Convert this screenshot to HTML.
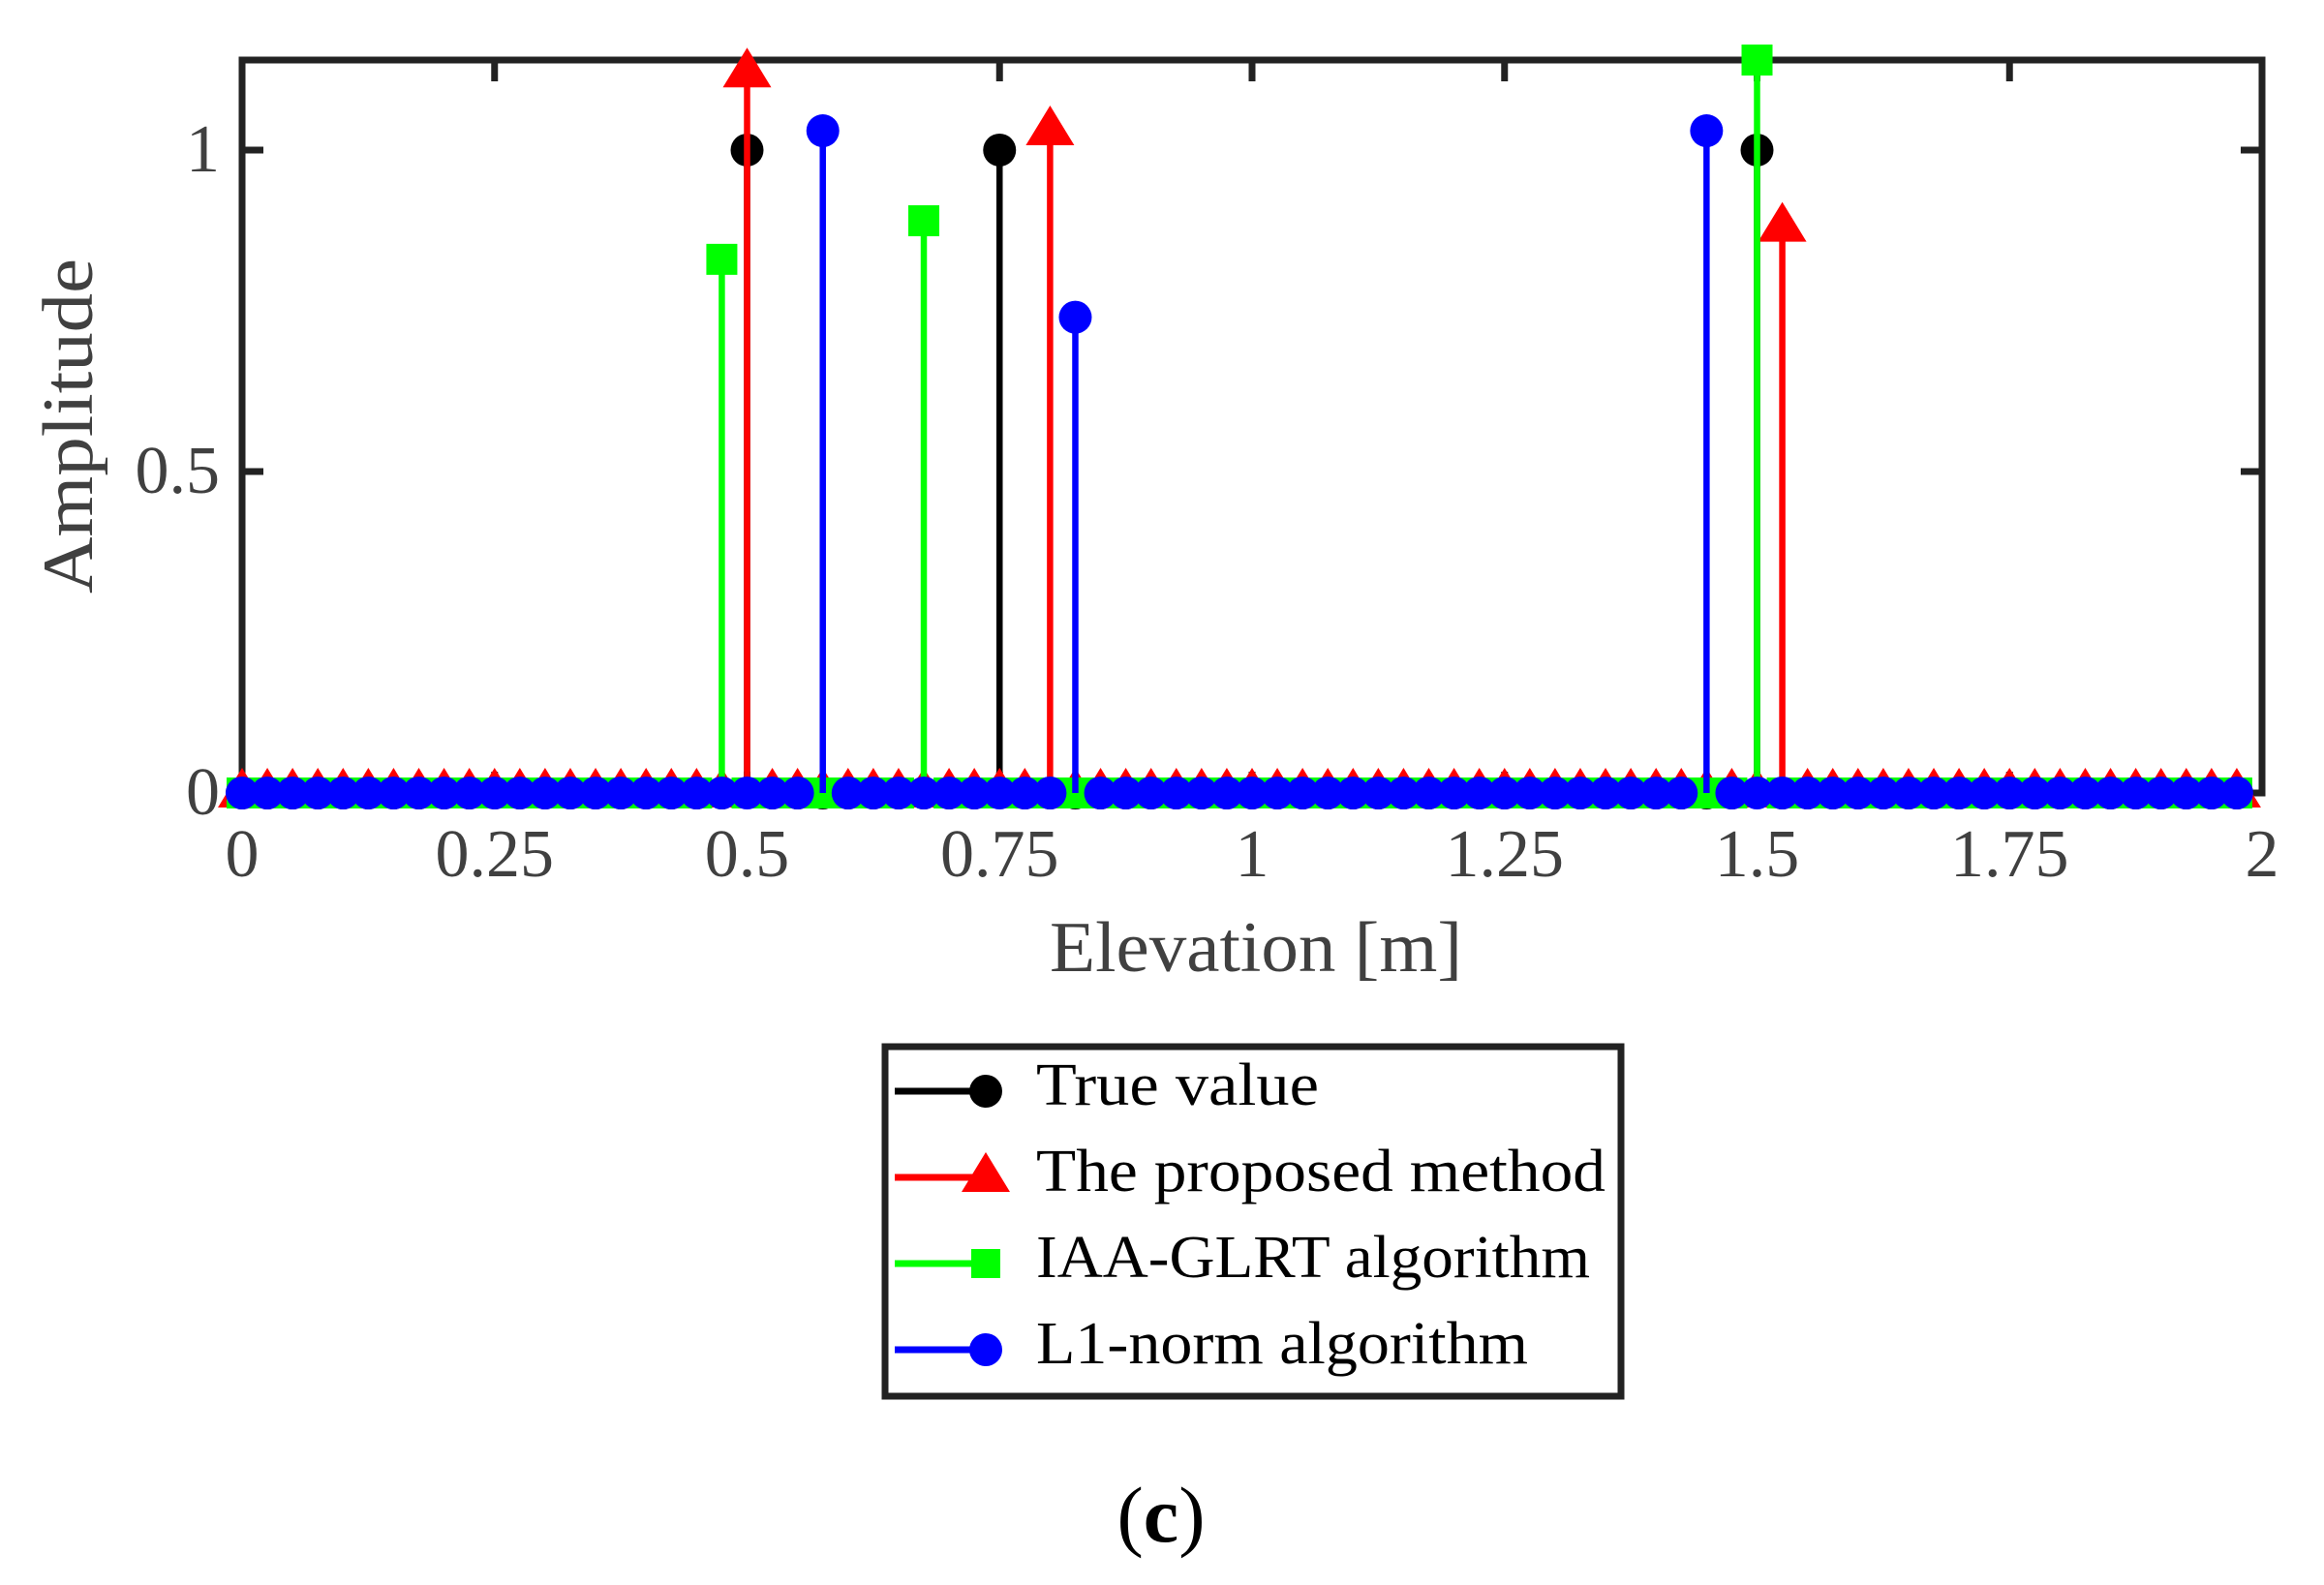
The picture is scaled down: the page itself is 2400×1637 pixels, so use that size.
<!DOCTYPE html>
<html><head><meta charset="utf-8"><style>
html,body{margin:0;padding:0;background:#fff}
svg{display:block}
text{font-family:"Liberation Serif",serif}
</style></head><body>
<svg id="chart" width="2400" height="1637" viewBox="0 0 2400 1637" xmlns="http://www.w3.org/2000/svg">
<rect width="2400" height="1637" fill="#fff"/>
<g id="axes"></g>
<g id="plot"></g>
<text transform="translate(95,440) rotate(-90)" text-anchor="middle" font-size="74" fill="#404040" textLength="346" lengthAdjust="spacingAndGlyphs">Amplitude</text>
<text x="1297" y="1003" text-anchor="middle" font-size="74" fill="#404040" textLength="426" lengthAdjust="spacingAndGlyphs">Elevation [m]</text>
<g>
<rect x="914" y="1081" width="760" height="361" fill="#fff" stroke="#222" stroke-width="7"/>
<g>
<line x1="924" y1="1127" x2="1018" y2="1127" stroke="#000" stroke-width="7"/><ellipse cx="1018" cy="1127" rx="17" ry="17" fill="#000"/>
<text x="1070" y="1141" font-size="62" textLength="292" lengthAdjust="spacingAndGlyphs">True value</text></g>
<g>
<line x1="924" y1="1216" x2="1018" y2="1216" stroke="#f00" stroke-width="7"/><polygon points="1018,1190 1043,1231 993,1231" fill="#f00"/>
<text x="1070" y="1230" font-size="62" textLength="588" lengthAdjust="spacingAndGlyphs">The proposed method</text></g>
<g>
<line x1="924" y1="1305" x2="1018" y2="1305" stroke="#0f0" stroke-width="7"/><rect x="1003" y="1290" width="30" height="30" fill="#0f0"/>
<text x="1070" y="1319" font-size="62" textLength="572" lengthAdjust="spacingAndGlyphs">IAA-GLRT algorithm</text></g>
<g>
<line x1="924" y1="1394" x2="1018" y2="1394" stroke="#00f" stroke-width="7"/><ellipse cx="1018" cy="1394" rx="17" ry="17" fill="#00f"/>
<text x="1070" y="1408" font-size="62" textLength="508" lengthAdjust="spacingAndGlyphs">L1-norm algorithm</text></g>
</g>
<text x="1199" y="1592" text-anchor="middle" font-size="82">(<tspan font-weight="bold">c</tspan>)</text>
</svg>
<script>
const gridStep = 0.025;
const gridCount = 80;
const trueX = [0.5, 0.75, 1.5];
const trueY = [1, 1, 1];
const propX = [0.5, 0.8, 1.525];
const propY = [1.12, 1.03, 0.88];
const iaaX = [0.475, 0.675, 1.5];
const iaaY = [0.83, 0.89, 1.14];
const l1X = [0.575, 0.825, 1.45];
const l1Y = [1.03, 0.74, 1.03];
const xTicks = [0, 0.25, 0.5, 0.75, 1, 1.25, 1.5, 1.75, 2];
const xTickLabels = ["0","0.25","0.5","0.75","1","1.25","1.5","1.75","2"];
const yTicks = [0, 0.5, 1];
const yTickLabels = ["0","0.5","1"];

const X0=250, X1=2336, Y0=819, Y1=62, xMax=2, yMax=1.14;
const sx = v => X0 + (X1-X0)*v/xMax;
const sy = v => Y0 - (Y0-Y1)*v/yMax;
const NS="http://www.w3.org/2000/svg";
const plot=document.getElementById('plot'), axes=document.getElementById('axes');
function mk(tag, attrs, parent){const e=document.createElementNS(NS,tag);for(const k in attrs)e.setAttribute(k,attrs[k]);parent.appendChild(e);return e;}

function fullSeries(xs, ys){
  const out=[];
  for(let i=0;i<gridCount;i++){
    const x=+(i*gridStep).toFixed(4);
    let y=0;
    for(let j=0;j<xs.length;j++){ if(Math.abs(xs[j]-x)<1e-6){y=ys[j];} }
    out.push([x,y]);
  }
  for(let j=0;j<xs.length;j++){
    if(!out.some(p=>Math.abs(p[0]-xs[j])<1e-6)) out.push([xs[j],ys[j]]);
  }
  return out;
}
function marker(kind, cx, cy, color, g){
  if(kind==='circle') return mk('ellipse',{cx:cx,cy:cy,rx:17,ry:17,fill:color},g);
  if(kind==='tri') return mk('polygon',{points:`${cx},${cy-26} ${cx+25},${cy+15} ${cx-25},${cy+15}`,fill:color},g);
  return mk('rect',{x:cx-16,y:cy-16,width:32,height:32,fill:color},g);
}
function drawSeries(name, xs, ys, color, kind){
  const g=mk('g',{},plot);
  
  
  const pts=fullSeries(xs,ys);
  pts.forEach(p=>{
    if(p[1]!==0){
      const l=mk('line',{x1:sx(p[0]),y1:sy(0),x2:sx(p[0]),y2:sy(p[1]),stroke:color,'stroke-width':6.5},g);
      
      
    }
  });
  pts.forEach(p=>{
    const m=marker(kind, sx(p[0]), sy(p[1]), color, g);
    
    
  });
}
mk('rect',{x:X0,y:Y1,width:X1-X0,height:Y0-Y1,fill:'none',stroke:'#222','stroke-width':7},axes);
xTicks.forEach((t,i)=>{
  const x=sx(t);
  mk('line',{x1:x,y1:Y0,x2:x,y2:Y0-22,stroke:'#222','stroke-width':7},axes);
  mk('line',{x1:x,y1:Y1,x2:x,y2:Y1+22,stroke:'#222','stroke-width':7},axes);
  const tx=mk('text',{x:x,y:905,'text-anchor':'middle','font-size':70,fill:'#404040'},axes);
  tx.textContent=xTickLabels[i];
  
  
});
yTicks.forEach((t,i)=>{
  const y=sy(t);
  mk('line',{x1:X0,y1:y,x2:X0+22,y2:y,stroke:'#222','stroke-width':7},axes);
  mk('line',{x1:X1,y1:y,x2:X1-22,y2:y,stroke:'#222','stroke-width':7},axes);
  const ty=mk('text',{x:227,y:y+22,'text-anchor':'end','font-size':70,fill:'#404040'},axes);
  ty.textContent=yTickLabels[i];
  
  
});
drawSeries('true-value', trueX, trueY, '#000', 'circle');
drawSeries('proposed-method', propX, propY, '#f00', 'tri');
drawSeries('iaa-glrt', iaaX, iaaY, '#0f0', 'square');
drawSeries('l1-norm', l1X, l1Y, '#00f', 'circle');
</script>
</body></html>
